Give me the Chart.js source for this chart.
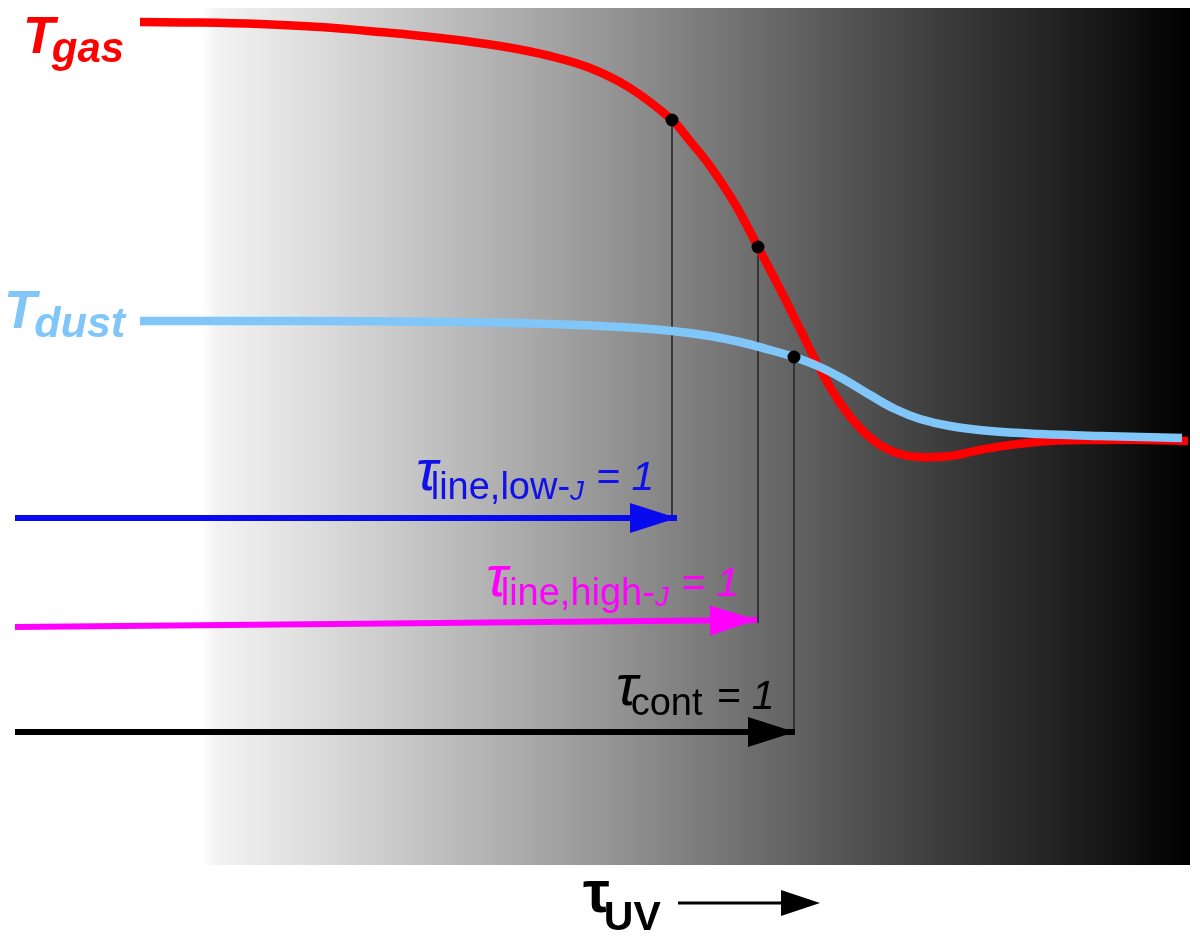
<!DOCTYPE html>
<html>
<head>
<meta charset="utf-8">
<script src="https://cdn.jsdelivr.net/npm/chart.js@4.4.1/dist/chart.umd.min.js"></script>
<style>
  html, body { margin: 0; padding: 0; background: #ffffff; }
  #wrap { width: 1200px; height: 937px; position: relative; }
</style>
</head>
<body>
<div id="wrap"><canvas id="c"></canvas></div>
<script>
// ---- data (schematic units: x = depth (tau), y = temperature) ----
const gasX  = [1.40, 2.00, 2.60, 3.20, 3.80, 4.40, 5.00, 5.50, 5.90, 6.30, 6.72, 6.90, 7.10, 7.35, 7.58, 7.80, 8.00, 8.20, 8.40, 8.60, 8.80, 9.00, 9.20, 9.50, 9.80, 10.10, 10.50, 11.00, 11.50, 11.88];
const gasT  = [91.5, 91.45, 91.3, 91.0, 90.5, 89.9, 89.1, 88.1, 86.9, 84.9, 81.7, 79.6, 77.1, 73.3, 69.0, 64.8, 60.8, 56.8, 53.4, 50.9, 49.2, 48.3, 48.0, 48.1, 48.7, 49.2, 49.6, 49.7, 49.7, 49.6];
const dustX = [1.40, 3.00, 4.50, 5.50, 6.20, 6.72, 7.10, 7.40, 7.70, 7.94, 8.20, 8.45, 8.70, 8.95, 9.20, 9.50, 9.90, 10.40, 11.00, 11.82];
const dustT = [61.6, 61.6, 61.5, 61.3, 61.0, 60.6, 60.1, 59.5, 58.7, 58.0, 57.0, 55.7, 54.2, 52.8, 51.8, 51.1, 50.6, 50.3, 50.1, 49.9];

// tau = 1 surfaces (x) and the temperature at which each is marked
const markX = [6.72, 7.58, 7.94];
const markT = [81.7, 69.0, 58.0];

// arrows: start/end depth and level
const arrowNames  = ['low', 'high', 'cont'];
const arrowStartX = [0.15, 0.15, 0.15];
const arrowEndX   = [6.77, 7.57, 7.95];
const arrowStartY = [41.9, 31.0, 20.5];
const arrowEndY   = [41.9, 31.7, 20.5];

const xMin = 0, xMax = 12, yMin = 0, yMax = 93.7;
const bgStartX = 2.02, bgEndX = 11.90, bgTopT = 92.9, bgBottomT = 7.2;

const arrowColors = ['#0a0aee', '#ff00ff', '#000000'];

const datasets = [];
datasets.push({
  label: 'marks', data: markX.map((x, i) => ({x, y: markT[i]})),
  showLine: false, pointRadius: 6.5, pointHoverRadius: 6.5,
  pointBackgroundColor: '#000', pointBorderColor: '#000', pointBorderWidth: 0, order: 0
});
arrowNames.forEach((n, i) => {
  datasets.push({
    label: 'arrow-' + n, isArrow: true,
    data: [{x: arrowStartX[i], y: arrowStartY[i]}, {x: arrowEndX[i], y: arrowEndY[i]}],
    borderColor: arrowColors[i], borderWidth: 6, pointRadius: 0, order: 1
  });
});
datasets.push({
  label: 'Tdust', data: dustX.map((x, i) => ({x, y: dustT[i]})),
  borderColor: '#80c6f8', borderWidth: 8.5, pointRadius: 0,
  tension: 0.4, borderCapStyle: 'butt', order: 2
});
datasets.push({
  label: 'Tgas', data: gasX.map((x, i) => ({x, y: gasT[i]})),
  borderColor: '#ff0000', borderWidth: 8.5, pointRadius: 0,
  tension: 0.4, borderCapStyle: 'butt', order: 3
});
markX.forEach((x, i) => {
  datasets.push({
    label: 'drop' + i,
    data: [{x, y: markT[i]}, {x, y: arrowEndY[i] - 0.3}],
    borderColor: 'rgba(40,40,40,0.85)', borderWidth: 1, pointRadius: 0, order: 4
  });
});

const bgPlugin = {
  id: 'bg',
  beforeDatasetsDraw(chart) {
    const {ctx, scales: {x, y}} = chart;
    const x0 = x.getPixelForValue(bgStartX), x1 = x.getPixelForValue(bgEndX);
    const y0 = y.getPixelForValue(bgTopT), y1 = y.getPixelForValue(bgBottomT);
    const g = ctx.createLinearGradient(x0, 0, x1, 0);
    g.addColorStop(0.00, '#ffffff');
    g.addColorStop(0.015, '#f2f2f2');
    g.addColorStop(0.10, '#e0e0e0');
    g.addColorStop(0.20, '#c9c9c9');
    g.addColorStop(0.30, '#b0b0b0');
    g.addColorStop(0.40, '#989898');
    g.addColorStop(0.50, '#7d7d7d');
    g.addColorStop(0.60, '#626262');
    g.addColorStop(0.70, '#484848');
    g.addColorStop(0.80, '#303030');
    g.addColorStop(0.90, '#1a1a1a');
    g.addColorStop(1.00, '#000000');
    ctx.save();
    ctx.fillStyle = g;
    ctx.fillRect(x0, y0, x1 - x0, y1 - y0);
    ctx.restore();
  }
};

function drawRuns(ctx, x, y, runs) {
  let cx = x;
  runs.forEach(r => {
    ctx.font = r.font;
    ctx.fillStyle = r.color;
    ctx.fillText(r.t, cx + (r.dx || 0), y + (r.dy || 0));
    cx += ctx.measureText(r.t).width + (r.dx || 0) + (r.after || 0);
  });
}

const F = '"Liberation Sans", Arial, sans-serif';
const overlay = {
  id: 'overlay',
  afterDatasetsDraw(chart) {
    const ctx = chart.ctx;
    chart.data.datasets.forEach((ds, i) => {
      if (!ds.isArrow) return;
      const pts = chart.getDatasetMeta(i).data;
      const a = pts[0], b = pts[pts.length - 1];
      const ang = Math.atan2(b.y - a.y, b.x - a.x);
      const L = 47, W = 15;
      ctx.save();
      ctx.translate(b.x, b.y);
      ctx.rotate(ang);
      ctx.beginPath();
      ctx.moveTo(0, 0);
      ctx.lineTo(-L, -W);
      ctx.lineTo(-L, W);
      ctx.closePath();
      ctx.fillStyle = ds.borderColor;
      ctx.fill();
      ctx.restore();
    });
  },
  afterDraw(chart) {
    const ctx = chart.ctx;
    ctx.save();
    ctx.textBaseline = 'alphabetic';
    drawRuns(ctx, 23, 53, [
      {t: 'T', font: `italic bold 52px ${F}`, color: '#ff0000', after: -3},
      {t: 'gas', font: `italic bold 42px ${F}`, color: '#ff0000', dy: 9}
    ]);
    drawRuns(ctx, 4, 328, [
      {t: 'T', font: `italic bold 53px ${F}`, color: '#80c6f8', after: -2},
      {t: 'dust', font: `italic bold 43px ${F}`, color: '#80c6f8', dy: 9}
    ]);
    const lab = (x, y, sub, col) => drawRuns(ctx, x, y, [
      {t: 'τ', font: `italic 58px ${F}`, color: col, after: -7},
      {t: sub, font: `38px ${F}`, color: col, dy: 9},
      {t: 'J', font: `italic 28px ${F}`, color: col, dy: 10, after: 12},
      {t: '= 1', font: `italic 41px ${F}`, color: col}
    ]);
    lab(416, 490, 'line,low-', '#1010e8');
    lab(486, 596, 'line,high-', '#ff00ff');
    drawRuns(ctx, 616, 705, [
      {t: 'τ', font: `italic 58px ${F}`, color: '#000', after: -7},
      {t: 'cont', font: `38px ${F}`, color: '#000', dy: 10, after: 14},
      {t: '= 1', font: `italic 41px ${F}`, color: '#000', dy: 4}
    ]);
    drawRuns(ctx, 583, 912, [
      {t: 'τ', font: `bold 60px ${F}`, color: '#000', after: -6},
      {t: 'UV', font: `bold 41px ${F}`, color: '#000', dy: 18}
    ]);
    ctx.strokeStyle = '#000';
    ctx.lineWidth = 3;
    ctx.beginPath();
    ctx.moveTo(678, 903);
    ctx.lineTo(785, 903);
    ctx.stroke();
    ctx.beginPath();
    ctx.moveTo(820, 903);
    ctx.lineTo(781, 890);
    ctx.lineTo(781, 916);
    ctx.closePath();
    ctx.fillStyle = '#000';
    ctx.fill();
    ctx.restore();
  }
};

new Chart(document.getElementById('c'), {
  type: 'line',
  data: { datasets },
  options: {
    responsive: true, maintainAspectRatio: false, animation: false,
    layout: { padding: 0, autoPadding: false },
    events: [],
    plugins: { legend: { display: false }, tooltip: { enabled: false } },
    scales: {
      x: { type: 'linear', min: xMin, max: xMax, display: false },
      y: { type: 'linear', min: yMin, max: yMax, display: false }
    }
  },
  plugins: [bgPlugin, overlay]
});
</script>
</body>
</html>
